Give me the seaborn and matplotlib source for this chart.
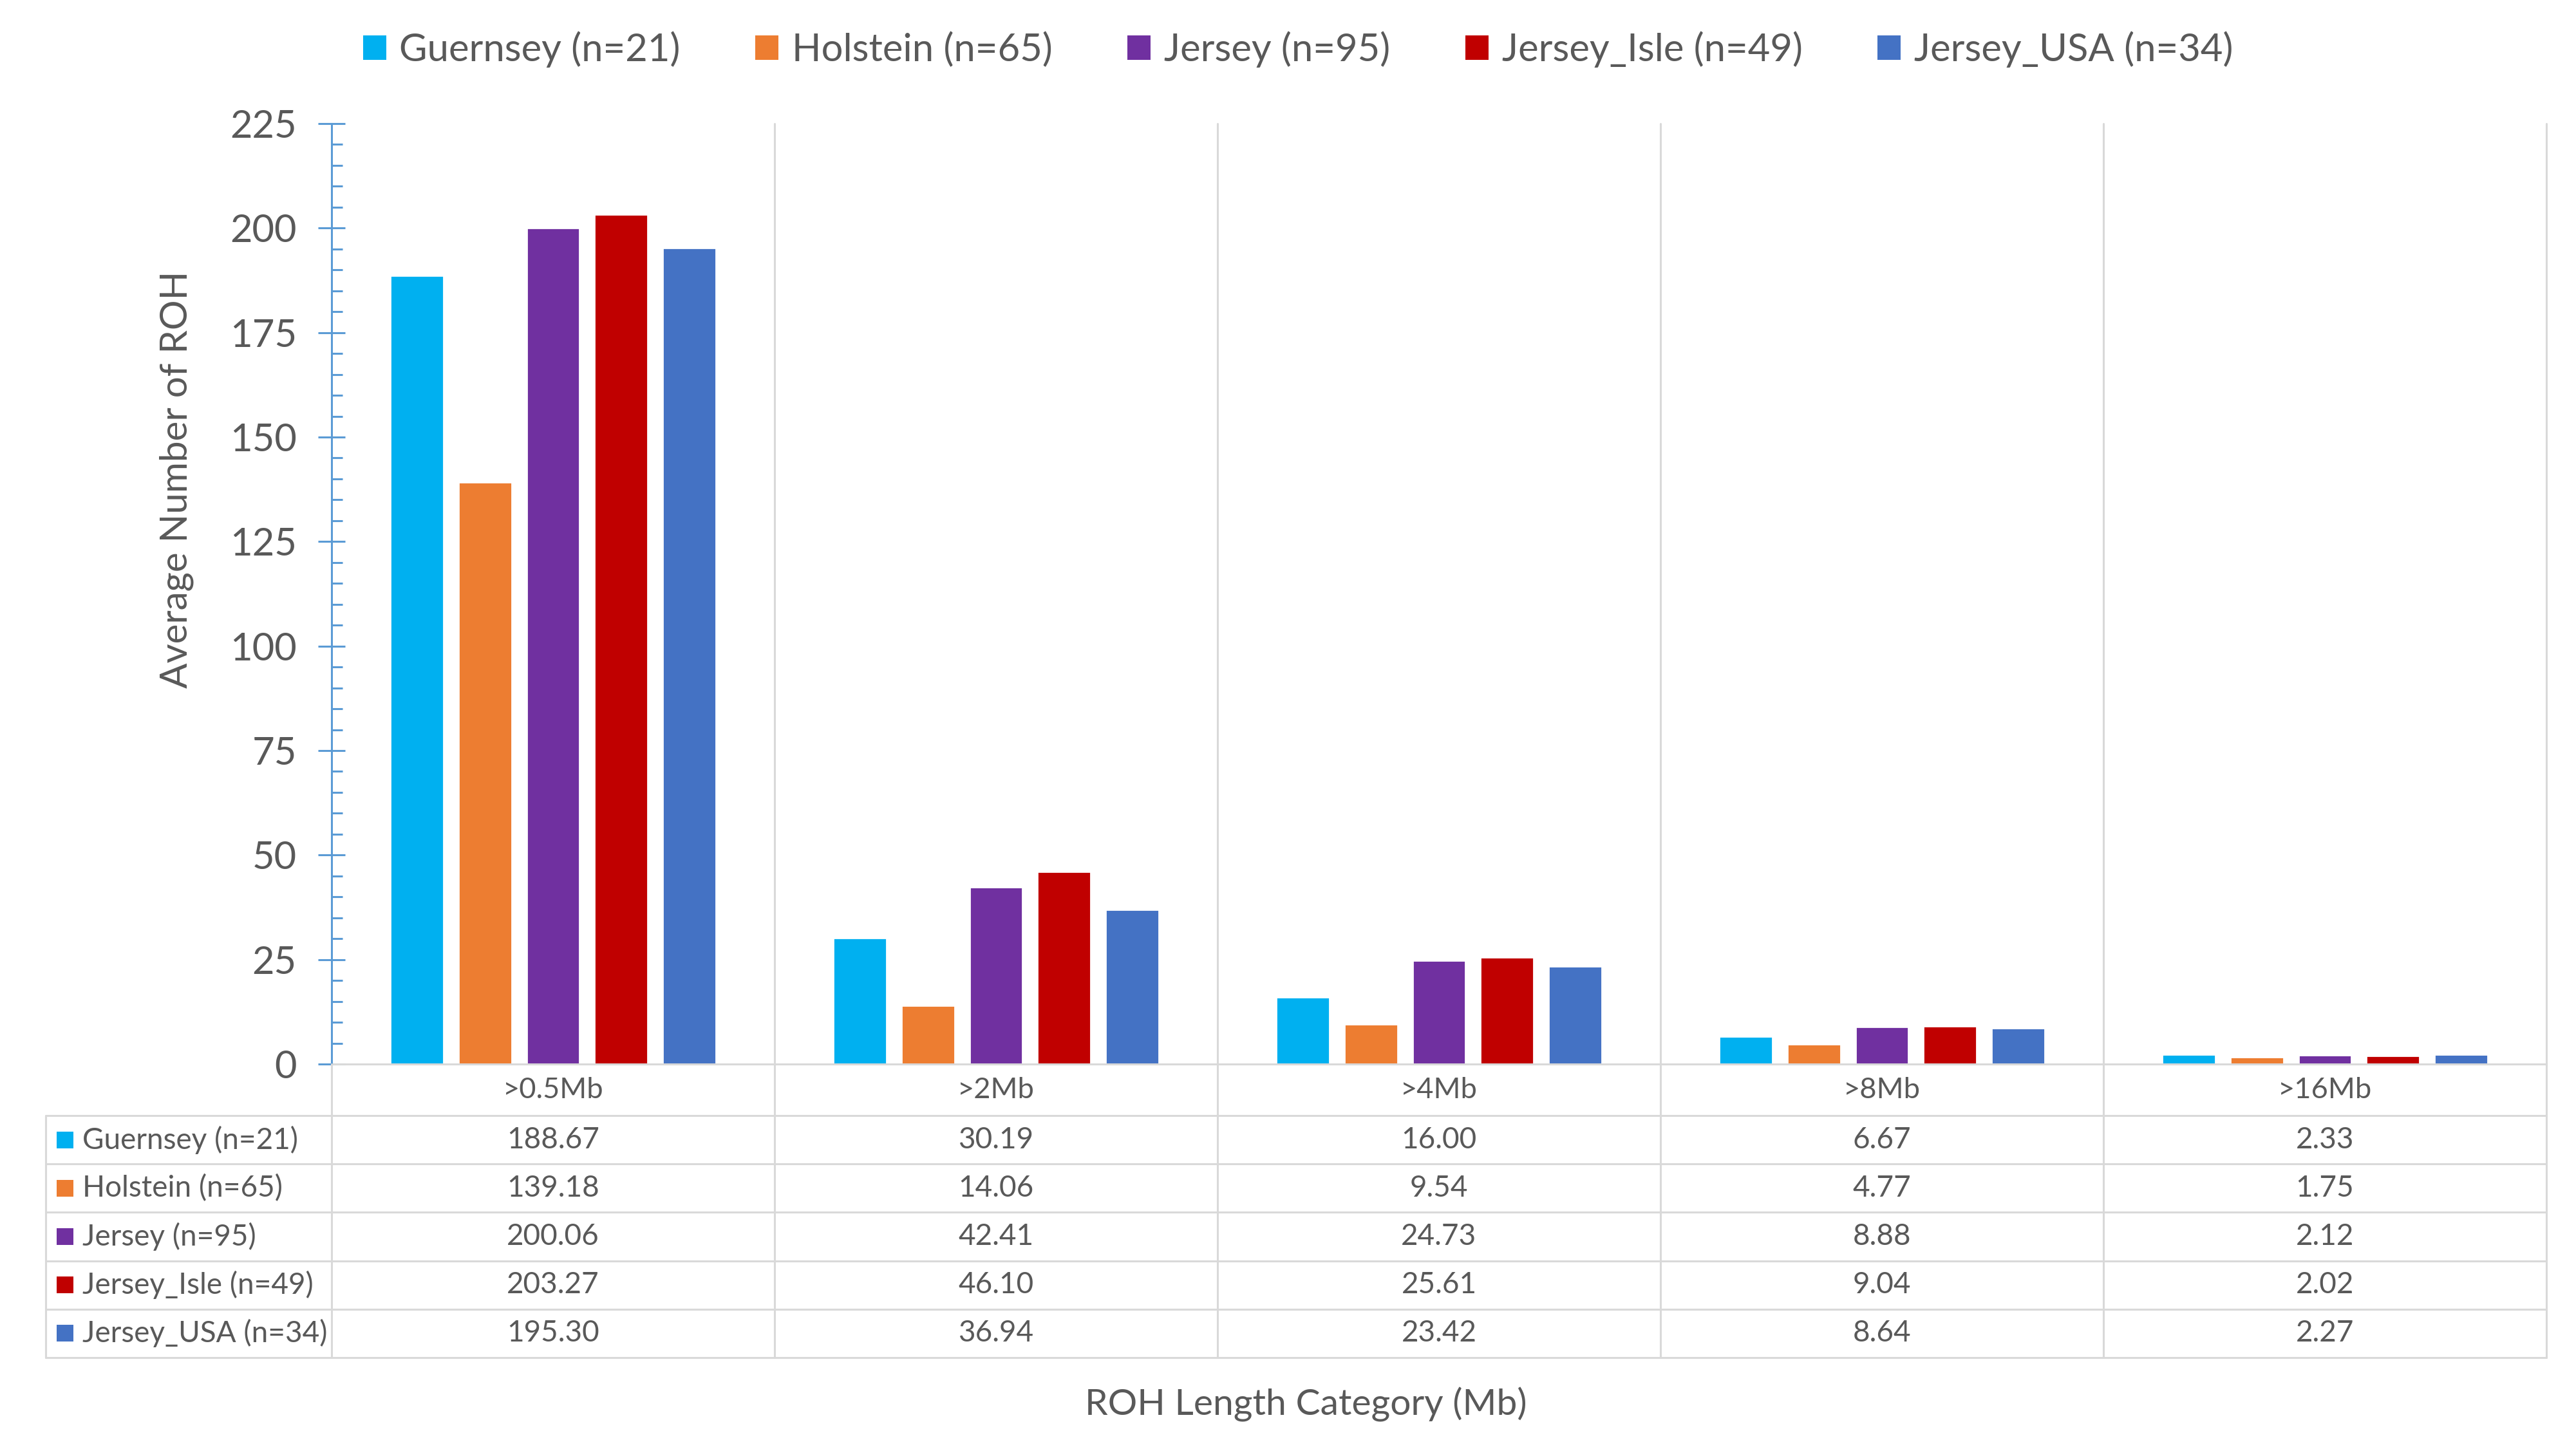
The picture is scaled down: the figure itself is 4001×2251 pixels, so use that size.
import pandas as pd
import numpy as np
import matplotlib
matplotlib.use("Agg")
import matplotlib.pyplot as plt
import seaborn as sns
from matplotlib.lines import Line2D
from matplotlib.patches import Patch, Rectangle
from matplotlib.ticker import MultipleLocator
from matplotlib.transforms import blended_transform_factory

categories = [">0.5Mb", ">2Mb", ">4Mb", ">8Mb", ">16Mb"]
breeds = ["Guernsey (n=21)", "Holstein (n=65)", "Jersey (n=95)",
          "Jersey_Isle (n=49)", "Jersey_USA (n=34)"]
guernsey = [188.67, 30.19, 16.00, 6.67, 2.33]
holstein = [139.18, 14.06, 9.54, 4.77, 1.75]
jersey = [200.06, 42.41, 24.73, 8.88, 2.12]
jersey_isle = [203.27, 46.10, 25.61, 9.04, 2.02]
jersey_usa = [195.30, 36.94, 23.42, 8.64, 2.27]
colors = ["#00B0F0", "#ED7D31", "#7030A0", "#C00000", "#4472C4"]

series = [guernsey, holstein, jersey, jersey_isle, jersey_usa]
df = pd.DataFrame({
    "category": categories * len(breeds),
    "breed": [b for b in breeds for _ in categories],
    "value": [v for s in series for v in s],
})

sns.set_style("white")
plt.rcParams["font.family"] = ["Lato", "DejaVu Sans"]
txt = "#595959"
grid = "#D9D9D9"
axblue = "#5B9BD5"

W, H = 4001, 2251
fig = plt.figure(figsize=(W / 200, H / 200), dpi=200)
fig.patch.set_facecolor("white")

# pixel layout of the plot area and table
x_left, x_right = 515, 3955
y_top, y_zero = 192, 1653
tab_left = 71
row_top = 1733
row_h = 75.2

ax = fig.add_axes([x_left / W, 1 - y_zero / H, (x_right - x_left) / W, (y_zero - y_top) / H])
sns.barplot(data=df, x="category", y="value", hue="breed", palette=colors,
            width=0.768, gap=0.215, saturation=1, errorbar=None, legend=False, ax=ax)

ax.set_xlim(-0.5, len(categories) - 0.5)
ax.set_ylim(0, 225)
ax.yaxis.set_major_locator(MultipleLocator(25))
ax.yaxis.set_minor_locator(MultipleLocator(5))
ax.tick_params(axis="y", which="both", left=True)
ax.tick_params(axis="y", which="major", direction="inout", length=15, width=1.1,
               color=axblue, labelsize=21.5, labelcolor=txt, pad=12)
ax.tick_params(axis="y", which="minor", direction="in", length=6, width=1.1, color=axblue)
ax.tick_params(axis="x", length=0, labelsize=16.3, labelcolor=txt, pad=14.4)
for lab in ax.get_xticklabels():
    lab.set_verticalalignment("center")
ax.set_xlabel("")
ax.set_ylabel("")
for s in ["top", "right"]:
    ax.spines[s].set_visible(False)
ax.spines["left"].set_color(axblue)
ax.spines["left"].set_linewidth(1.1)
ax.spines["bottom"].set_color(grid)
ax.spines["bottom"].set_linewidth(1.1)
ax.spines["left"].set_zorder(5)

def fy(py):
    return 1 - py / H

trans = blended_transform_factory(ax.transData, fig.transFigure)
n_rows = len(breeds)
tab_bottom = row_top + n_rows * row_h

# vertical lines
for i in range(len(categories) + 1):
    xb = i - 0.5
    top = y_zero if i == 0 else y_top
    fig.add_artist(Line2D([xb, xb], [fy(top), fy(tab_bottom)], transform=trans,
                          color=grid, lw=1.1, zorder=1))
fig.add_artist(Line2D([tab_left / W] * 2, [fy(row_top), fy(tab_bottom)],
                      color=grid, lw=1.1))
# horizontal lines
for k in range(n_rows + 1):
    yy = fy(row_top + k * row_h)
    fig.add_artist(Line2D([tab_left / W, x_right / W], [yy, yy], color=grid, lw=1.1))

# table content
for r, (name, vals, c) in enumerate(zip(breeds, series, colors)):
    yc = row_top + (r + 0.5) * row_h
    fig.add_artist(Rectangle((88 / W, fy(yc + 13)), 26 / W, 26 / H,
                             facecolor=c, edgecolor="none"))
    fig.text(128 / W, fy(yc), name, ha="left", va="center", fontsize=16.5, color=txt)
    for i, v in enumerate(vals):
        fig.text(i, fy(yc), f"{v:.2f}", transform=trans, ha="center", va="center",
                 fontsize=16.5, color=txt)

# axis titles
fig.text(2028 / W, fy(2182), "ROH Length Category (Mb)", ha="center", va="center",
         fontsize=20.5, color=txt)
fig.text(274 / W, fy(745), "Average Number of ROH", ha="center", va="center",
         rotation=90, fontsize=21, color=txt)

handles = [Patch(facecolor=c, edgecolor="none", label=b) for b, c in zip(breeds, colors)]
fig.legend(handles=handles, loc="center", bbox_to_anchor=(2016 / W, fy(77)), ncol=5,
           frameon=False, fontsize=21.5, labelcolor=txt, handlelength=0.6,
           handleheight=0.6, handletextpad=0.35, columnspacing=1.95)

fig.savefig("out.png", dpi=200, facecolor="white")
